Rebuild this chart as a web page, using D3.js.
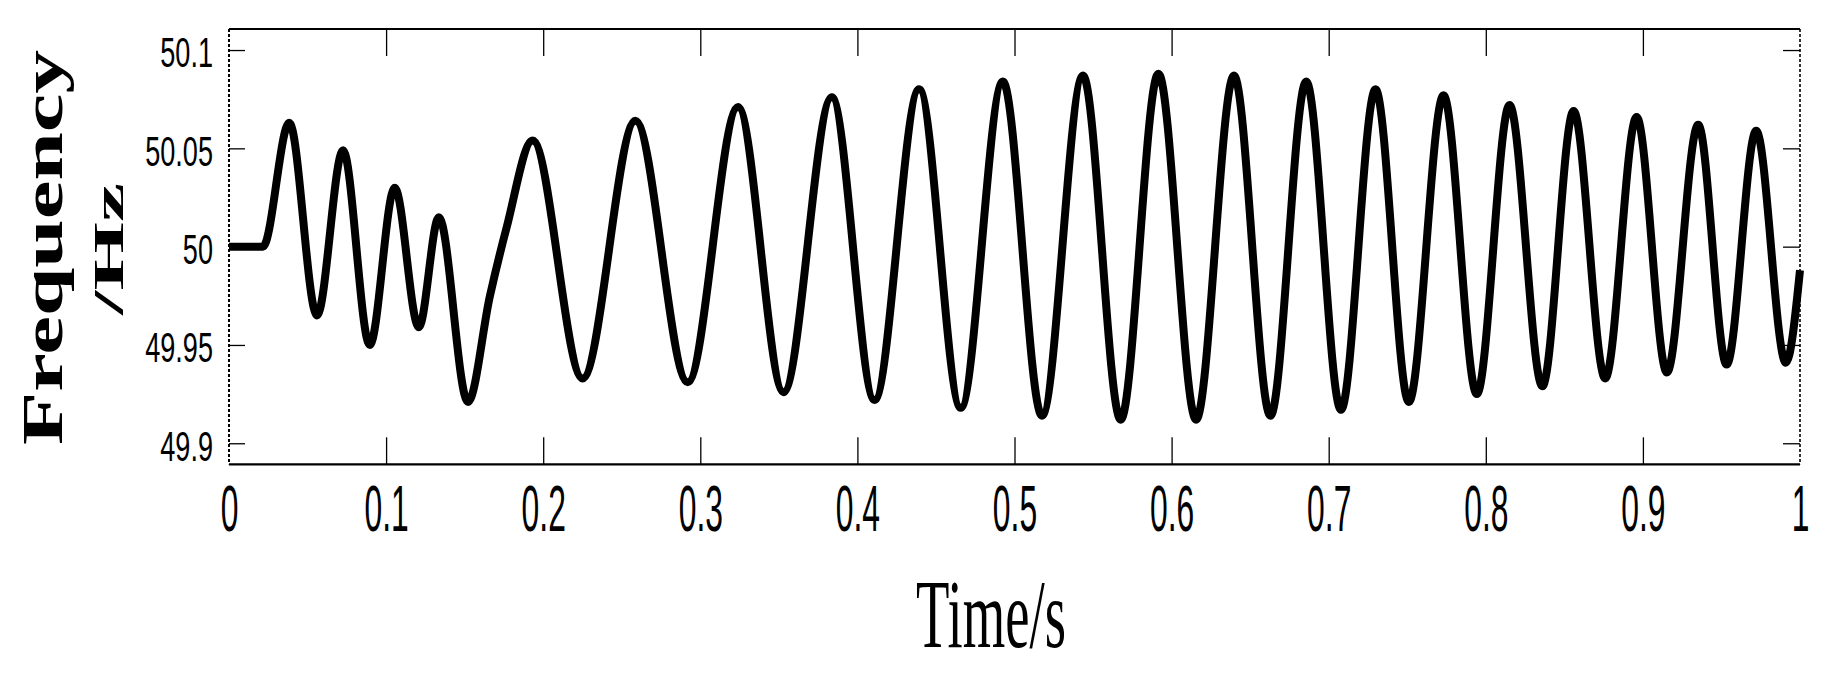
<!DOCTYPE html>
<html>
<head>
<meta charset="utf-8">
<script src="https://cdn.jsdelivr.net/npm/d3@7"></script>
<style>
  body { margin: 0; background: #fff; }
  svg { display: block; }
</style>
</head>
<body>
<div id="chart"></div>
<script>
// values: turning points of the trace, plus two
// points on the rise near 0.15-0.19 s where the slope changes
var timeS = [0, 0.0216, 0.0384, 0.056, 0.0726, 0.0896, 0.1055, 0.1208, 0.1336, 0.1521,
    0.1661, 0.1768, 0.1933, 0.2251, 0.2587, 0.2920, 0.3240, 0.3530, 0.3837, 0.4109,
    0.4393, 0.4658, 0.4926, 0.5175, 0.5436, 0.5676, 0.5916, 0.6156, 0.6397, 0.6629,
    0.6857, 0.7078, 0.7298, 0.7510, 0.7731, 0.7943, 0.8151, 0.8360, 0.8559, 0.8760,
    0.8960, 0.9153, 0.9352, 0.9533, 0.9721, 0.9910, 1.0];
var freqHz = [50, 50, 50.063, 49.965, 50.049, 49.950, 50.030, 49.959, 50.015, 49.921,
    49.975, 50.010, 50.054, 49.933, 50.064, 49.931, 50.071, 49.926, 50.076, 49.922,
    50.080, 49.918, 50.084, 49.914, 50.087, 49.912, 50.088, 49.912, 50.087, 49.914,
    50.084, 49.917, 50.080, 49.921, 50.077, 49.925, 50.072, 49.929, 50.069, 49.933,
    50.066, 49.936, 50.062, 49.940, 50.059, 49.941, 49.988];

var xTicks = [0, 0.1, 0.2, 0.3, 0.4, 0.5, 0.6, 0.7, 0.8, 0.9, 1];
var xTickLabels = ['0', '0.1', '0.2', '0.3', '0.4', '0.5', '0.6', '0.7', '0.8', '0.9', '1'];
var yTicks = [49.9, 49.95, 50, 50.05, 50.1];
var yTickLabels = ['49.9', '49.95', '50', '50.05', '50.1'];

var xTitle = 'Time/s';
var yTitle1 = 'Frequency';
var yTitle2 = '/Hz';

// page / plot box
var W = 1837, H = 680;
var margin = {top: 29, left: 229};
var plotW = 1571, plotH = 435.3;

var xScale = d3.scaleLinear()
    .domain([0, 1])
    .range([0, plotW]);
var yScale = d3.scaleLinear()
    .domain([49.8893, 50.1107])
    .range([plotH, 0]);

var svg = d3.select('#chart').append('svg')
    .attr('width', W)
    .attr('height', H)
    .style('background', '#fff');

var g = svg.append('g')
    .attr('transform', 'translate(' + margin.left + ',' + margin.top + ')');

var sansFont = '"Liberation Sans", Arial, sans-serif';
var serifFont = '"Liberation Serif", "Times New Roman", serif';

// ---- axes (ticks point inward) ----
var xAxisB = d3.axisBottom(xScale)
    .tickValues(xTicks)
    .tickFormat(function(d, i){ return xTickLabels[i]; })
    .tickSize(-27);
var gxB = g.append('g')
    .attr('transform', 'translate(0,' + plotH + ')')
    .call(xAxisB);

var xAxisT = d3.axisTop(xScale)
    .tickValues(xTicks)
    .tickFormat('')
    .tickSize(-27);
var gxT = g.append('g').call(xAxisT);

var yAxisL = d3.axisLeft(yScale)
    .tickValues(yTicks)
    .tickFormat(function(d, i){ return yTickLabels[i]; })
    .tickSize(-16);
var gyL = g.append('g').call(yAxisL);

var yAxisR = d3.axisRight(yScale)
    .tickValues(yTicks)
    .tickFormat('')
    .tickSize(-17);
var gyR = g.append('g')
    .attr('transform', 'translate(' + plotW + ',0)')
    .call(yAxisR);

[gxB, gxT, gyL, gyR].forEach(function(ax){
    ax.select('.domain').remove();
    ax.selectAll('.tick line')
        .attr('stroke', '#000')
        .attr('stroke-width', 1.3);
});

// no tick lines on the corners, the border is there
[gxB, gxT].forEach(function(ax){
    ax.selectAll('.tick line')
        .attr('opacity', function(d){ return (d === 0 || d === 1) ? 0 : 1; });
});

// tick labels: tall narrow digits
gxB.selectAll('text')
    .attr('x', 0)
    .attr('y', 0)
    .attr('dy', null)
    .attr('fill', '#000')
    .style('font-family', sansFont)
    .style('font-size', '65px')
    .attr('transform', 'translate(0,66.5) scale(0.49,1)');

gyL.selectAll('text')
    .attr('x', 0)
    .attr('dy', '0.358em')
    .attr('fill', '#000')
    .style('font-family', sansFont)
    .style('font-size', '43px')
    .attr('transform', 'translate(-16,1.5) scale(0.63,1)');

// ---- frame ----
g.append('line')
    .attr('x1', 0).attr('x2', plotW)
    .attr('y1', 0).attr('y2', 0)
    .attr('stroke', '#000').attr('stroke-width', 2.2);
g.append('line')
    .attr('x1', 0).attr('x2', plotW)
    .attr('y1', plotH).attr('y2', plotH)
    .attr('stroke', '#000').attr('stroke-width', 2.2);
g.append('line')
    .attr('x1', 0).attr('x2', 0)
    .attr('y1', 0).attr('y2', plotH)
    .attr('stroke', '#000').attr('stroke-width', 2)
    .attr('stroke-dasharray', '3,2');
g.append('line')
    .attr('x1', plotW).attr('x2', plotW)
    .attr('y1', 0).attr('y2', plotH)
    .attr('stroke', '#000').attr('stroke-width', 1.6)
    .attr('stroke-dasharray', '3,2');

// ---- the trace ----
var line = d3.line()
    .x(function(d){ return xScale(d[0]); })
    .y(function(d){ return yScale(d[1]); })
    .curve(d3.curveMonotoneX);

g.append('path')
    .datum(d3.zip(timeS, freqHz))
    .attr('d', line)
    .attr('fill', 'none')
    .attr('stroke', '#000')
    .attr('stroke-width', 8)
    .attr('stroke-linejoin', 'round');

// ---- titles ----
svg.append('text')
    .attr('x', 991)
    .attr('y', 647)
    .attr('text-anchor', 'middle')
    .attr('textLength', 150)
    .attr('lengthAdjust', 'spacingAndGlyphs')
    .style('font-family', serifFont)
    .style('font-size', '97px')
    .text(xTitle);

svg.append('text')
    .attr('transform', 'translate(61.5,247.5) rotate(-90)')
    .attr('text-anchor', 'middle')
    .attr('textLength', 395)
    .attr('lengthAdjust', 'spacingAndGlyphs')
    .style('font-family', serifFont)
    .style('font-weight', 'bold')
    .style('font-size', '58px')
    .text(yTitle1);

svg.append('text')
    .attr('transform', 'translate(123,249) rotate(-90)')
    .attr('text-anchor', 'middle')
    .attr('textLength', 132)
    .attr('lengthAdjust', 'spacingAndGlyphs')
    .style('font-family', serifFont)
    .style('font-weight', 'bold')
    .style('font-size', '43px')
    .text(yTitle2);
</script>
</body>
</html>
